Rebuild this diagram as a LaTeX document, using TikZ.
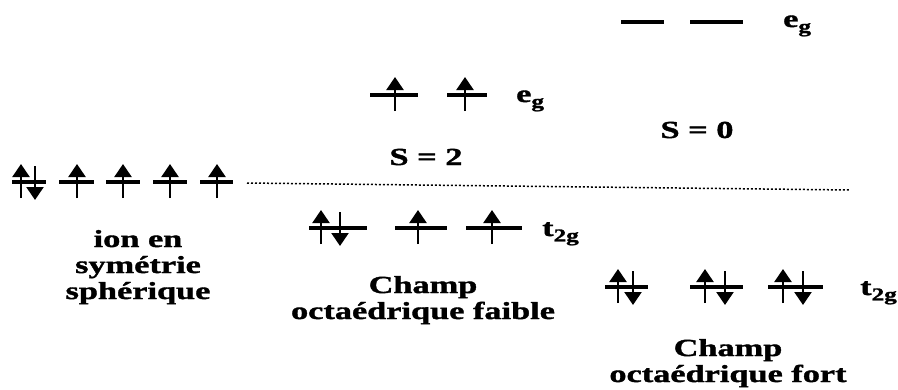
\documentclass[tikz,border=0pt]{standalone}
\usepackage{fontspec}
\setmainfont[FakeStretch=1.4,FakeBold=1.5]{Liberation Serif}
\usetikzlibrary{arrows.meta}
\newcommand{\mysubg}[1]{\raisebox{-0.22em}{\fontsize{18}{18}\selectfont #1}}
\newcommand{\lvl}[3]{\draw[level] (#1,#3) -- (#2,#3);}
\newcommand{\upar}[2]{\draw[spin] (#1,#2+16) -- (#1,#2-18);}
\newcommand{\dnar}[2]{\draw[spin] (#1,#2-16) -- (#1,#2+18);}
\begin{document}
\begin{tikzpicture}[x=1pt,y=-1pt,
  level/.style={line width=3.2pt},
  spin/.style={line width=2.3pt,-{Triangle[width=17pt,length=13pt]}},
  lbl/.style={font=\bfseries\fontsize{24.5}{26}\selectfont,inner sep=0pt},
  blk/.style={lbl,align=center}]
\useasboundingbox (0,0) rectangle (898,389);
% left: spherical ion
\lvl{12}{46}{182}\upar{21}{182}\dnar{35}{182}
\lvl{59}{94}{182}\upar{77}{182}
\lvl{106}{140}{182}\upar{123}{182}
\lvl{153}{187}{182}\upar{170}{182}
\lvl{200}{233}{182}\upar{217}{182}
% dotted reference line
\coordinate (d1) at (247,183);
\coordinate (d2) at (850,190);
\draw[line width=1.5pt,dash pattern=on 2pt off 2pt] (d1) -- (d2);
% weak field eg
\lvl{370}{418}{95}\upar{395}{95}
\lvl{447}{487}{95}\upar{465}{95}
% weak field t2g
\lvl{309}{367}{228}\upar{321}{228}\dnar{340}{228}
\lvl{395}{447}{228}\upar{418}{228}
\lvl{466}{522}{228}\upar{492}{228}
% strong field eg
\lvl{621}{664}{22}
\lvl{690}{743}{22}
% strong field t2g
\lvl{605}{648}{287}\upar{618}{287}\dnar{633}{287}
\lvl{690}{743}{287}\upar{705}{287}\dnar{725}{287}
\lvl{768}{823}{287}\upar{783}{287}\dnar{803}{287}
% labels
\node[lbl,anchor=base west] (eg1) at (516,102) {e\mysubg{g}};
\node[lbl,anchor=base west] (eg2) at (783,27) {e\mysubg{g}};
\node[lbl,anchor=base west] (t2g1) at (542,236) {t\mysubg{2g}};
\node[lbl,anchor=base west] (t2g2) at (860,295) {t\mysubg{2g}};
\node[lbl,anchor=base] (s2) at (426,165) {S = 2};
\node[lbl,anchor=base] (s0) at (697,138) {S = 0};
\node[blk,anchor=base] (ion) at (138,299) {ion en\\symétrie\\sphérique};
\node[blk,anchor=base] (faible) at (423,319) {Champ\\octaédrique faible};
\node[blk,anchor=base] (fort) at (728,382) {Champ\\octaédrique fort};
\end{tikzpicture}
\end{document}
